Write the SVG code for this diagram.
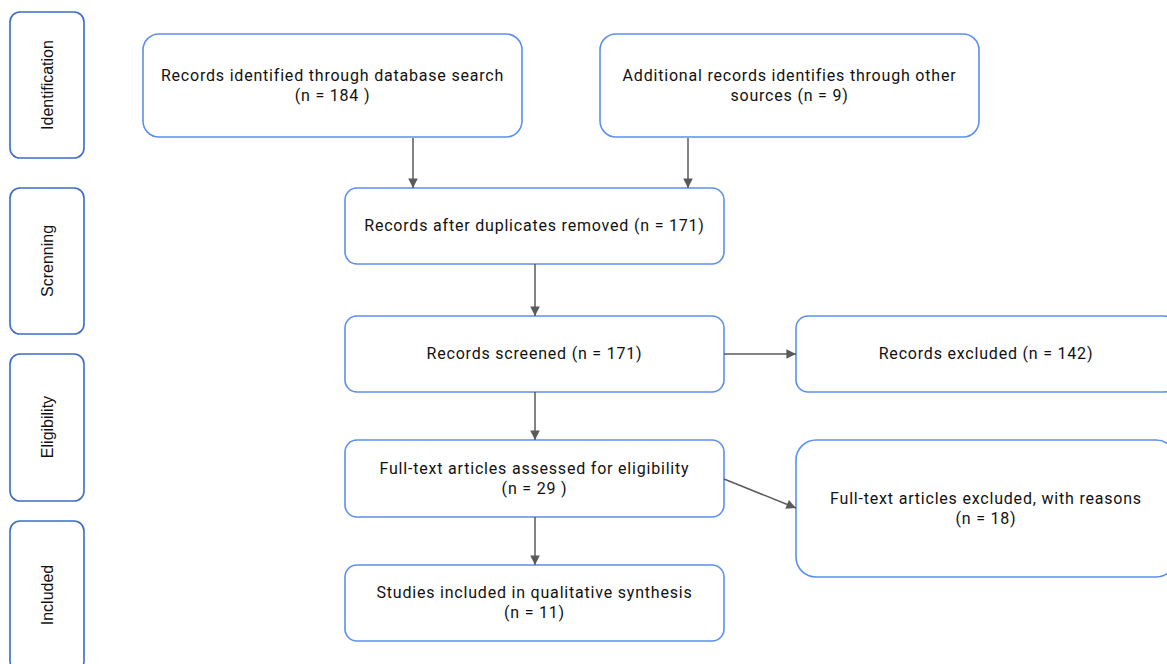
<svg xmlns="http://www.w3.org/2000/svg" width="1167" height="664" viewBox="0 0 1167 664">
<style>
.side rect{fill:#fff;stroke:#3c6cc6;stroke-width:1.6}
.side text{font-family:"Liberation Sans",Arial,sans-serif;font-size:16px;fill:#111;text-anchor:middle}
.node rect{fill:#fff;stroke:#5b8ff0;stroke-width:1.6}
.node text{font-family:Roboto,"Liberation Sans",sans-serif;font-size:16px;letter-spacing:0.8px;fill:#111;text-anchor:middle}
.conn line{stroke:#5a5a5a;stroke-width:1.5;marker-end:url(#ah)}
</style>
<defs>
<marker id="ah" viewBox="0 0 10 10" refX="10" refY="5" markerWidth="8" markerHeight="8" markerUnits="userSpaceOnUse" orient="auto" style="overflow:visible">
<path d="M0,0 L10,5 L0,10 z" fill="#5a5a5a" transform="scale(1.2)" transform-origin="10 5"/>
</marker>
</defs>
<rect width="1167" height="664" fill="#fff"/>
<g id="side-identification" class="side"><rect x="10" y="12" width="74" height="146" rx="10"/><text transform="translate(53,85) rotate(-90)">Identification</text></g>
<g id="side-screening" class="side"><rect x="10" y="188" width="74" height="146" rx="10"/><text transform="translate(53,261) rotate(-90)">Screnning</text></g>
<g id="side-eligibility" class="side"><rect x="10" y="354" width="74" height="147" rx="10"/><text transform="translate(53,427) rotate(-90)">Eligibility</text></g>
<g id="side-included" class="side"><rect x="10" y="521" width="74" height="150" rx="10"/><text transform="translate(53,595) rotate(-90)">Included</text></g>

<g id="n-db" class="node"><rect x="143" y="34" width="379" height="103" rx="16"/><text x="332.5" y="81">Records identified through database search</text><text x="332.5" y="101">(n = 184 )</text></g>
<g id="n-other" class="node"><rect x="600" y="34" width="379" height="103" rx="16"/><text x="789.5" y="81">Additional records identifies through other</text><text x="789.5" y="101">sources (n = 9)</text></g>
<g id="n-dup" class="node"><rect x="345" y="188" width="379" height="76" rx="12"/><text x="534.5" y="231">Records after duplicates removed (n = 171)</text></g>
<g id="n-screened" class="node"><rect x="345" y="316" width="379" height="76" rx="12"/><text x="534.5" y="359">Records screened (n = 171)</text></g>
<g id="n-excluded" class="node"><rect x="796" y="316" width="380" height="76" rx="12"/><text x="986" y="359">Records excluded (n = 142)</text></g>
<g id="n-fulltext" class="node"><rect x="345" y="440" width="379" height="77" rx="12"/><text x="534.5" y="474">Full-text articles assessed for eligibility</text><text x="534.5" y="494">(n = 29 )</text></g>
<g id="n-ftexcluded" class="node"><rect x="796" y="440" width="380" height="137" rx="20"/><text x="986" y="504">Full-text articles excluded, with reasons</text><text x="986" y="524">(n = 18)</text></g>
<g id="n-included" class="node"><rect x="345" y="565" width="379" height="76" rx="12"/><text x="534.5" y="598">Studies included in qualitative synthesis</text><text x="534.5" y="618">(n = 11)</text></g>

<g id="connectors" class="conn">
<line x1="413" y1="138" x2="413" y2="188"/>
<line x1="688" y1="138" x2="688" y2="188"/>
<line x1="535" y1="264" x2="535" y2="316"/>
<line x1="535" y1="392" x2="535" y2="440"/>
<line x1="535" y1="517" x2="535" y2="565"/>
<line x1="724" y1="354" x2="796" y2="354"/>
<line x1="724" y1="479" x2="796" y2="508"/>
</g>
</svg>
